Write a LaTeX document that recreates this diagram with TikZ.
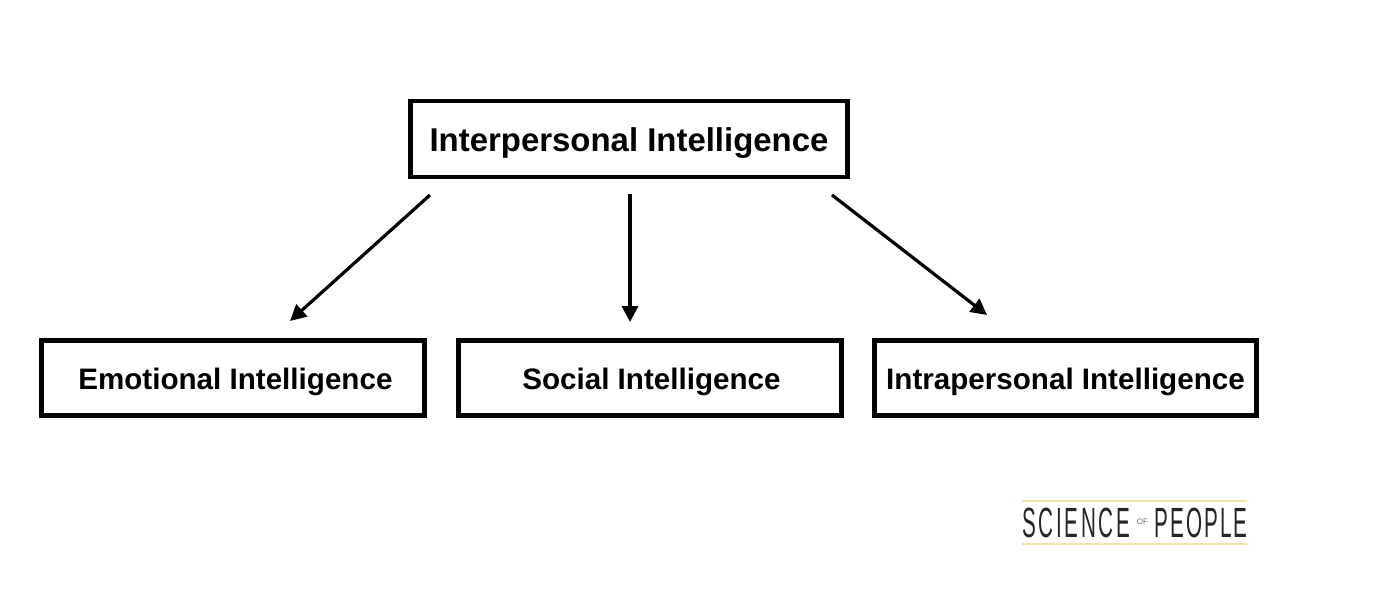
\documentclass[tikz,border=0pt]{standalone}
\usepackage{fontspec}
\setmainfont{Liberation Sans}
\usetikzlibrary{arrows.meta}
\definecolor{logoline}{HTML}{EFE6A6}
\definecolor{logoink}{HTML}{262626}
\definecolor{logosmall}{HTML}{6E6E6E}
% Drops a label below the optical centre of its box without changing its reserved size
\newcommand{\droplabel}[1]{\raisebox{-3pt}[\height][\depth]{#1}}
\tikzset{
  px/.style={x=0.75pt,y=-0.75pt},
  box/.style={draw=black,line width=3.6pt,fill=white,inner sep=0pt,text=black,align=center},
  bigbox/.style={box,font=\bfseries\fontsize{24.7}{28}\selectfont,minimum width=328pt,minimum height=57pt},
  smallbox/.style={box,font=\bfseries\fontsize{22.2}{26}\selectfont,minimum width=287pt,minimum height=56pt},
  link/.style={draw=black,line width=2.4pt,-{Triangle[length=12pt,width=12pt]}},
  logoband/.style={draw=logoline,line width=2pt}
}
\begin{document}
\begin{tikzpicture}[px]
\useasboundingbox (0,0) rectangle (1382,590);
\fill[white] (0,0) rectangle (1382,590);
% Boxes
\node[bigbox] (top) at (629,139) {\droplabel{Interpersonal Intelligence}};
\node[smallbox] (emo) at (233,378) {\hspace*{3.6pt}\droplabel{Emotional Intelligence}};
\node[smallbox] (soc) at (650,378) {\hspace*{2.2pt}\droplabel{Social Intelligence}};
\node[smallbox] (intra) at (1065.5,378) {\droplabel{Intrapersonal Intelligence}};
% Arrows hang free between the rows
\coordinate (a1s) at (430,195);
\coordinate (a1e) at (290,321);
\coordinate (a2s) at (630,194);
\coordinate (a2e) at (630,322);
\coordinate (a3s) at (832,195);
\coordinate (a3e) at (987,315);
\draw[link] (a1s) -- (a1e);
\draw[link] (a2s) -- (a2e);
\draw[link] (a3s) -- (a3e);
% Wordmark with its two rules
\coordinate (l1) at (1022,501);
\coordinate (r1) at (1247,501);
\coordinate (l2) at (1022,544);
\coordinate (r2) at (1247,544);
\draw[logoband] (l1) -- (r1);
\draw[logoband] (l2) -- (r2);
\node[inner sep=0pt,text=logoink] (logo) at (1135,522.5) {\fontsize{24}{28}\selectfont\scalebox{0.645}[1.32]{\addfontfeature{LetterSpace=13}SCIENCE}\kern5pt\raisebox{9.5pt}{\textcolor{logosmall}{\fontsize{6}{6}\selectfont OF}}\kern5pt\scalebox{0.645}[1.32]{\addfontfeature{LetterSpace=10}PEOPLE}};
\end{tikzpicture}
\end{document}
